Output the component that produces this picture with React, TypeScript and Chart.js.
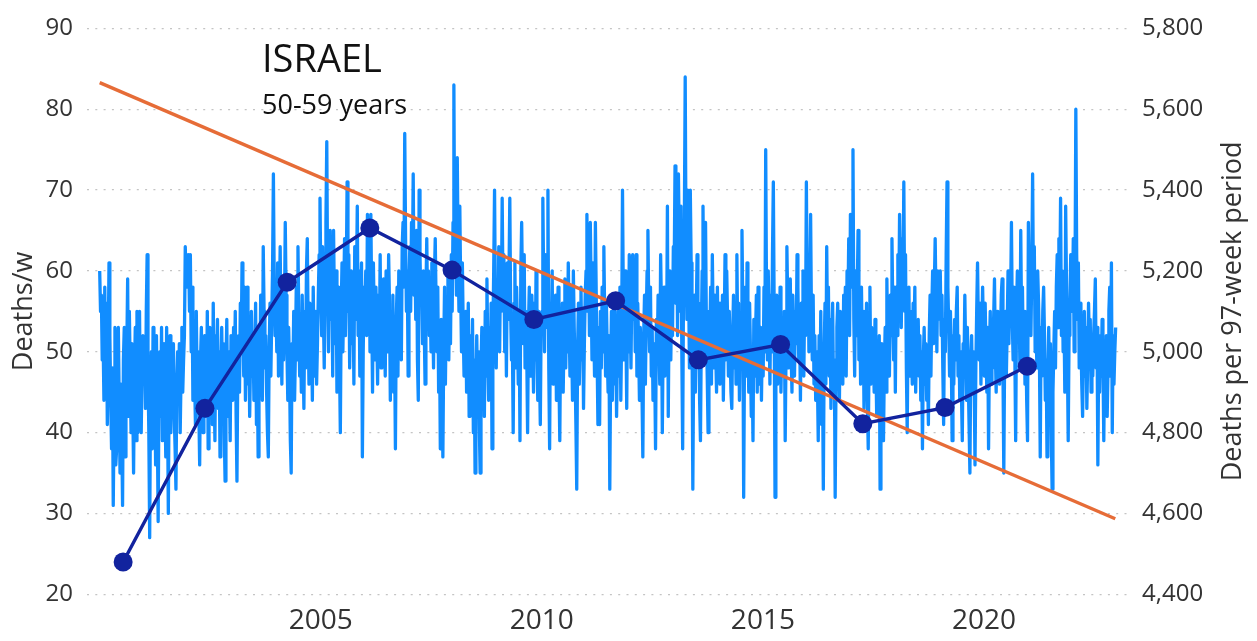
import React, { useEffect, useRef } from 'react';
import { Chart, registerables } from 'chart.js';

Chart.register(...registerables);

// ---- Weekly deaths (50-59 years), one array per year, week 1 of 2000 onward ----
const w2000 = [60,55,57,49,52,44,58,47,56,41,50,61,52,44,38,48,31,42,53,36,38,47,53,44,35,46,40,31,49,53,37,45,50,59,42,55,48,40,51,44,35,47,53,39,55,40,46,55,43,40,48,52];
const w2001 = [46,51,43,55,62,48,40,27,45,50,38,53,44,47,36,52,41,29,46,50,42,53,39,48,51,44,37,53,45,30,47,52,40,49,45,51,42,38,33,46,50,44,51,40,47,53,45,49,52,63,58,62];
const w2002 = [58,62,55,62,50,58,44,52,47,41,55,46,50,43,36,49,53,45,40,51,52,47,42,55,38,48,53,44,50,41,56,46,39,52,48,54,43,50,37,47,53,45,51,40,34,48,54,42,50,46,39,52];
const w2003 = [50,44,53,47,55,42,34,48,52,45,56,50,61,54,47,58,44,51,58,46,53,42,49,55,47,52,44,50,56,41,48,37,53,46,57,50,44,63,55,48,52,45,40,37,50,56,47,54,60,72,58,52];
const w2004 = [56,50,61,47,55,63,52,46,58,49,54,66,57,50,44,53,48,39,35,51,47,55,44,50,58,49,63,54,47,52,45,57,50,43,55,48,60,64,53,46,56,49,52,44,58,50,47,55,46,51,57,62,69];
const w2005 = [58,52,63,55,48,60,66,76,58,50,62,65,54,59,47,65,56,51,60,45,53,58,49,40,55,61,50,57,64,52,59,71,55,62,48,56,60,51,57,46,63,54,58,68,52,60,47,55,61,37,50,58];
const w2006 = [55,60,52,67,58,63,50,67,56,45,61,54,49,58,52,46,57,50,62,48,55,51,59,53,47,60,54,50,62,56,44,53,49,57,45,51,38,54,58,47,60,52,56,49,63,66,58,77,64,55,60,47];
const w2007 = [58,63,55,66,60,72,57,62,54,65,49,44,70,62,56,58,51,60,53,46,57,64,55,60,52,58,50,61,55,48,59,64,56,50,58,45,52,38,54,48,37,50,58,46,55,52,60,49,57,51,62,55];
const w2008 = [66,83,60,68,57,74,62,55,68,58,50,61,53,47,51,55,45,50,56,42,43,52,47,54,40,49,35,46,52,44,50,41,35,48,53,45,51,42,55,47,59,50,44,53,48,56,38,52,60,70,55,48];
const w2009 = [58,52,63,50,60,55,69,57,62,50,58,47,61,54,59,69,55,49,52,40,56,61,48,58,53,46,55,39,60,66,57,51,62,48,55,50,40,53,58,47,54,57,52,45,56,49,60,51,44,55,48,41,54];
const w2010 = [55,69,58,50,62,53,59,70,48,38,56,51,60,46,54,49,57,44,52,58,47,39,53,50,56,45,52,59,48,55,50,61,54,47,58,51,44,60,53,48,41,33,50,56,46,52,58,49,55,43,51,57];
const w2011 = [60,67,55,62,52,66,58,49,61,54,47,66,57,50,41,53,41,55,48,58,50,63,54,47,56,50,45,52,33,48,55,44,51,57,46,53,42,50,55,47,58,44,52,70,56,49,60,53,43,58,50,62];
const w2012 = [55,48,58,62,54,60,50,62,47,56,51,44,53,49,45,37,52,57,46,54,60,65,55,50,58,47,53,44,51,48,38,54,49,57,51,46,62,55,40,52,58,47,56,50,68,42,55,60,49,57,52,63];
const w2013 = [60,73,56,65,52,72,63,55,68,50,38,58,66,84,62,54,70,59,48,70,61,53,33,50,57,45,54,62,49,56,44,39,52,60,68,55,49,66,53,47,40,55,51,58,46,62,54,48,57,50,45,58];
const w2014 = [50,56,46,53,48,57,44,52,62,49,60,54,47,55,50,45,43,52,57,48,54,46,62,51,56,44,53,49,65,55,32,50,58,47,61,53,45,56,50,42,48,39,54,47,52,57,45,58,50,46,53,44];
const w2015 = [52,47,58,50,75,56,49,60,53,46,57,50,62,71,55,32,51,57,46,54,49,58,45,52,53,47,55,39,50,63,56,48,54,59,50,45,57,52,47,55,51,62,58,49,53,44,56,50,60,47,57,52,71];
const w2016 = [55,61,50,58,67,54,49,57,46,52,44,50,47,39,52,45,55,41,48,33,50,56,46,63,52,58,47,54,43,51,56,45,49,32,47,53,56,50,44,55,49,52,46,57,51,58,47,60,55,64,52,67];
const w2017 = [58,63,75,54,47,60,52,57,65,49,55,46,58,50,55,43,52,47,56,44,38,50,58,46,53,48,51,45,54,49,42,50,46,52,33,47,51,44,39,48,53,45,59,50,55,47,57,52,64,55,49,58];
const w2018 = [45,58,52,62,55,67,60,53,64,57,71,55,62,48,40,53,58,47,55,50,46,56,52,58,45,51,49,54,47,52,44,50,38,49,53,46,51,44,48,41,52,57,47,55,60,51,58,64,56,50,60,54];
const w2019 = [55,60,52,57,48,41,54,50,62,71,58,53,47,55,50,39,52,46,54,49,55,58,47,52,44,50,45,39,51,48,57,50,44,53,47,41,35,49,52,45,50,47,36,48,55,61,53,49,56,46,52,58];
const w2020 = [52,47,56,50,45,53,38,50,55,46,52,48,54,59,50,45,55,49,53,46,51,57,59,48,35,50,55,47,53,60,51,58,56,66,54,49,58,50,39,55,60,52,57,48,65,53,58,49,55,46,52,44,39];
const w2021 = [66,58,63,52,60,72,57,63,50,55,48,60,56,50,37,53,47,55,58,52,44,49,37,47,53,45,51,40,33,45,50,55,48,58,62,53,64,57,69,52,60,50,55,45,68,58,50,39,52,56,62,55];
const w2022 = [55,64,50,58,80,62,54,61,48,56,52,46,42,50,55,47,53,43,49,56,51,54,45,50,47,52,55,59,48,53,36,50,45,52,47,54,49,39,50,46,52,42,48,55,58,47,61,40,52,46,50,53];

const weeklyByYear = [w2000,w2001,w2002,w2003,w2004,w2005,w2006,w2007,w2008,w2009,w2010,w2011,w2012,w2013,w2014,w2015,w2016,w2017,w2018,w2019,w2020,w2021,w2022];
const firstWeekYear = 2000;

// ---- Deaths per 97-week period (right axis) ----
const periodYears = [2000.53, 2002.38, 2004.24, 2006.11, 2007.97, 2009.82, 2011.67, 2013.54, 2015.40, 2017.26, 2019.12, 2020.98];
const periodDeaths = [4480, 4860, 5172, 5306, 5202, 5080, 5126, 4980, 5018, 4822, 4862, 4964];

// ---- Linear trend of the 97-week series (right axis) ----
const trendYears = [2000.0, 2022.97];
const trendDeaths = [5666, 4587];

// ---- Axis ticks and texts ----
const xTicks = [2005, 2010, 2015, 2020];
const leftRange = [20, 90];
const rightRange = [4400, 5800];
const chartTitle = 'ISRAEL';
const chartSubtitle = '50-59 years';
const leftTitle = 'Deaths/w';
const rightTitle = 'Deaths per 97-week period';

const FONT = '"Open Sans", "Noto Sans", sans-serif';

export default function App() {
  const canvasRef = useRef<HTMLCanvasElement | null>(null);

  useEffect(() => {
    if (!canvasRef.current) return;
    const weekly = weeklyByYear.flat();
    const weeklyPts = weekly.map((v, i) => ({ x: firstWeekYear + (i * 7) / 365.25, y: v }));
    const periodPts = periodYears.map((x, i) => ({ x, y: periodDeaths[i] }));
    const trendPts = trendYears.map((x, i) => ({ x, y: trendDeaths[i] }));

    const textPlugin = {
      id: 'texts',
      afterDraw(chart: any) {
        const ctx = chart.ctx;
        const a = chart.chartArea;
        const cy = (a.top + a.bottom) / 2;
        ctx.save();
        ctx.fillStyle = '#111111';
        ctx.textAlign = 'left';
        ctx.textBaseline = 'alphabetic';
        ctx.font = `38px ${FONT}`;
        ctx.fillText(chartTitle, 262, 71.7);
        ctx.font = `27px ${FONT}`;
        ctx.fillText(chartSubtitle, 262, 113.5);

        ctx.fillStyle = '#333333';
        ctx.font = `27px ${FONT}`;
        ctx.textAlign = 'center';
        ctx.textBaseline = 'middle';
        ctx.save();
        ctx.translate(24, cy);
        ctx.rotate(-Math.PI / 2);
        ctx.fillText(leftTitle, 0, 0);
        ctx.restore();
        ctx.save();
        ctx.translate(1233, cy);
        ctx.rotate(-Math.PI / 2);
        ctx.fillText(rightTitle, 0, 0);
        ctx.restore();
        ctx.restore();
      },
    };

    const chart = new Chart(canvasRef.current, {
      type: 'line',
      data: {
        datasets: [
          {
            label: 'Deaths per 97-week period',
            data: periodPts,
            yAxisID: 'y2',
            borderColor: '#12239E',
            backgroundColor: '#12239E',
            borderWidth: 3.4,
            pointRadius: 9.5,
            pointHoverRadius: 9.5,
            pointBorderWidth: 0,
            pointBackgroundColor: '#12239E',
            tension: 0,
            order: 0,
          },
          {
            label: 'Trend',
            data: trendPts,
            yAxisID: 'y2',
            borderColor: '#E66C37',
            borderWidth: 3.4,
            pointRadius: 0,
            pointHoverRadius: 0,
            tension: 0,
            order: 1,
          },
          {
            label: 'Deaths/w',
            data: weeklyPts,
            yAxisID: 'y',
            borderColor: '#118DFF',
            borderWidth: 3.3,
            borderJoinStyle: 'round',
            pointRadius: 0,
            pointHoverRadius: 0,
            tension: 0,
            order: 2,
          },
        ],
      } as any,
      options: {
        animation: false,
        responsive: true,
        maintainAspectRatio: false,
        devicePixelRatio: 1,
        layout: { padding: { top: 22.7, left: 0, right: 0, bottom: 0 } },
        plugins: {
          legend: { display: false },
          tooltip: { enabled: false },
          title: { display: false },
        },
        scales: {
          x: {
            type: 'linear',
            min: 1999.713,
            max: 2023.258,
            grid: { display: false },
            border: { display: false },
            afterBuildTicks: (s: any) => {
              s.ticks = xTicks.map((v) => ({ value: v }));
            },
            afterFit: (s: any) => {
              s.height = 46.7;
            },
            ticks: {
              autoSkip: false,
              maxRotation: 0,
              padding: 2,
              color: '#333333',
              font: { family: FONT, size: 28 },
              callback: (v: any) => String(v),
            },
          },
          y: {
            position: 'left',
            min: leftRange[0],
            max: leftRange[1],
            afterFit: (s: any) => {
              s.width = 87;
            },
            ticks: {
              stepSize: 10,
              padding: 14,
              color: '#333333',
              font: { family: FONT, size: 24 },
            },
            grid: { color: '#c4c4c4', lineWidth: 1.3, drawTicks: false },
            border: { display: false, dash: [2, 6.3] },
          },
          y2: {
            position: 'right',
            min: rightRange[0],
            max: rightRange[1],
            afterFit: (s: any) => {
              s.width = 129;
            },
            ticks: {
              stepSize: 200,
              padding: 14,
              color: '#333333',
              font: { family: FONT, size: 24 },
              callback: (v: any) => Number(v).toLocaleString('en-US'),
            },
            grid: { display: false, drawTicks: false },
            border: { display: false },
          },
        },
      } as any,
      plugins: [textPlugin],
    });

    return () => chart.destroy();
  }, []);

  return (
    <div style={{ position: 'fixed', left: 0, top: 0, width: 1257, height: 641, background: '#ffffff' }}>
      <canvas ref={canvasRef} />
    </div>
  );
}
